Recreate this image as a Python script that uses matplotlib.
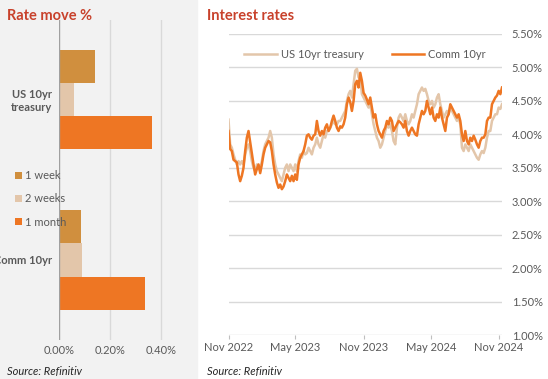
import numpy as np
import pandas as pd
import matplotlib
matplotlib.use('Agg')
import matplotlib.pyplot as plt
import matplotlib.dates as mdates
from matplotlib.patches import Rectangle

plt.rcParams['font.family'] = ['Lato', 'DejaVu Sans']

# rate move, percentage points
categories = ['US 10yr\ntreasury', 'Comm 10yr']
periods = ['1 week', '2 weeks', '1 month']
move_1w = [0.141, 0.086]
move_2w = [0.059, 0.090]
move_1m = [0.365, 0.337]
bar_colors = ['#d08f3e', '#e3c6aa', '#ee7623']

# interest rates, read roughly every 4.5 days from Nov 2022
comm_10yr = [4.05, 3.78, 3.75, 3.62, 3.60, 3.58, 3.40, 3.30, 3.38, 3.50,
             3.75, 3.95, 4.05, 3.88, 3.70, 3.55, 3.40, 3.48, 3.55, 3.42,
             3.55, 3.70, 3.80, 3.85, 3.90, 3.88, 3.75, 3.55, 3.40, 3.28,
             3.20, 3.25, 3.18, 3.22, 3.30, 3.40, 3.35, 3.30, 3.38, 3.30,
             3.40, 3.32, 3.55, 3.65, 3.70, 3.75, 3.85, 3.98, 4.00, 3.95,
             3.92, 3.98, 4.00, 4.20, 4.05, 3.98, 4.05, 4.00, 4.10, 4.15,
             4.05, 4.10, 4.20, 4.28, 4.20, 4.10, 4.05, 4.12, 4.10, 4.15,
             4.25, 4.45, 4.55, 4.48, 4.35, 4.50, 4.75, 4.80, 4.70, 4.92,
             4.80, 4.62, 4.58, 4.52, 4.45, 4.55, 4.40, 4.25, 4.30, 4.15,
             4.05, 4.00, 3.95, 4.05, 4.10, 4.20, 4.15, 4.25, 4.20, 4.05,
             4.10, 4.15, 4.20, 4.18, 4.15, 4.10, 4.20, 4.05, 3.98, 4.05,
             4.10, 4.05, 4.00, 3.98, 4.15, 4.25, 4.35, 4.30, 4.35, 4.50,
             4.40, 4.30, 4.40, 4.25, 4.20, 4.30, 4.25, 4.40, 4.25, 4.15,
             4.05, 4.25, 4.30, 4.45, 4.40, 4.35, 4.30, 4.25, 4.30, 4.20,
             4.00, 3.90, 4.05, 3.90, 3.85, 3.95, 3.90, 3.98, 3.92, 3.85,
             3.80, 3.90, 3.95, 3.95, 4.00, 4.20, 4.25, 4.25, 4.45, 4.50,
             4.55, 4.58, 4.65, 4.60, 4.70]
us_10yr = [4.22, 3.85, 3.80, 3.70, 3.62, 3.55, 3.60, 3.55, 3.60, 3.55,
           3.70, 3.80, 3.85, 3.75, 3.60, 3.50, 3.45, 3.55, 3.50, 3.45,
           3.60, 3.75, 3.85, 3.90, 3.95, 4.05, 3.95, 3.70, 3.55, 3.45,
           3.40, 3.35, 3.30, 3.40, 3.50, 3.55, 3.45, 3.55, 3.50, 3.45,
           3.55, 3.45, 3.60, 3.70, 3.65, 3.75, 3.70, 3.72, 3.80, 3.75,
           3.70, 3.80, 3.85, 3.95, 3.85, 3.80, 3.90, 4.00, 3.95, 4.05,
           4.05, 4.10, 4.15, 4.20, 4.15, 4.15, 4.20, 4.20, 4.25, 4.30,
           4.35, 4.50, 4.60, 4.65, 4.55, 4.75, 4.95, 4.98, 4.85, 4.85,
           4.60, 4.55, 4.50, 4.45, 4.40, 4.45, 4.30, 4.15, 4.05, 3.95,
           3.90, 3.80, 3.85, 3.95, 4.05, 4.15, 4.10, 4.15, 4.05, 3.90,
           3.85, 4.10, 4.25, 4.30, 4.25, 4.20, 4.30, 4.20, 4.15, 4.20,
           4.30, 4.25, 4.35, 4.45, 4.60, 4.65, 4.70, 4.65, 4.68, 4.60,
           4.50, 4.45, 4.50, 4.40, 4.45, 4.55, 4.60, 4.45, 4.35, 4.25,
           4.30, 4.35, 4.30, 4.40, 4.35, 4.30, 4.25, 4.20, 4.25, 4.15,
           3.80, 3.75, 3.85, 3.80, 3.75, 3.85, 3.80, 3.75, 3.70, 3.65,
           3.62, 3.70, 3.75, 3.72, 3.80, 3.95, 4.05, 4.05, 4.20, 4.25,
           4.30, 4.30, 4.40, 4.38, 4.45]
dates = pd.date_range('2022-11-01', '2024-11-09', periods=len(comm_10yr))

red = '#c8412b'
grey_txt = '#595959'
grid_c = '#d9d9d9'

fig = plt.figure(figsize=(5.48, 3.79), dpi=100)
fig.patches.append(Rectangle((0, 0), 197 / 548, 1, transform=fig.transFigure,
                             color='#f2f2f2', zorder=-1))

# left panel: bars
ax = fig.add_axes([59 / 548, 39 / 379, 127.5 / 548, 320 / 379])
ax.set_facecolor('none')
centers = [79.5, 240]
h = 33.3
for i, (vals, lab) in enumerate(zip([move_1w, move_2w, move_1m], periods)):
    ax.barh([c + (i - 1) * h for c in centers], vals, height=h,
            color=bar_colors[i], label=lab, zorder=2)
ax.set_ylim(320, 0)
ax.set_xlim(0, 0.5)
ax.set_xticks([0, 0.2, 0.4])
ax.set_xticklabels(['0.00%', '0.20%', '0.40%'])
ax.set_yticks(centers)
ax.set_yticklabels(categories, fontweight='bold', color='#404040', fontsize=7.5)
ax.tick_params(length=0, labelsize=8, labelcolor=grey_txt)
ax.tick_params(axis='y', pad=5)
for x in [0.2, 0.4]:
    ax.axvline(x, color=grid_c, lw=1, zorder=1)
ax.axvline(0, color='#a0a0a0', lw=1, zorder=3)
for s in ax.spines.values():
    s.set_visible(False)
ax.legend(loc='center left', bbox_to_anchor=(-48 / 127.5, 0.5 - 19 / 320),
          frameon=False, handlelength=0.6, handleheight=0.6, handletextpad=0.3,
          labelspacing=1.1, fontsize=8, labelcolor=grey_txt, borderaxespad=0)

# right panel: lines
ax2 = fig.add_axes([228.5 / 548, 44 / 379, 273.5 / 548, 301 / 379])
ax2.plot(dates, us_10yr, color='#e3c6aa', lw=1.8, label='US 10yr treasury', zorder=2)
ax2.plot(dates, comm_10yr, color='#ee7623', lw=1.8, label='Comm 10yr', zorder=3)
ax2.set_ylim(1.0, 5.5)
ax2.set_xlim(dates[0], dates[-1])
ax2.set_yticks(np.arange(1.0, 5.51, 0.5))
ax2.yaxis.set_major_formatter(plt.FuncFormatter(lambda v, p: f'{v:.2f}%'))
ax2.yaxis.tick_right()
ax2.grid(axis='y', color=grid_c, lw=1, zorder=0)
ax2.set_xticks(pd.to_datetime(['2022-11-01', '2023-05-01', '2023-11-01',
                               '2024-05-01', '2024-11-01']))
ax2.xaxis.set_major_formatter(mdates.DateFormatter('%b %Y'))
ax2.tick_params(axis='y', length=0, labelsize=8, labelcolor=grey_txt, pad=7)
ax2.tick_params(axis='x', length=3, color='#bfbfbf', labelsize=8,
                labelcolor=grey_txt, pad=2)
for s in ax2.spines.values():
    s.set_visible(False)
ax2.legend(loc='upper center', bbox_to_anchor=(0.5, 0.985), ncol=2, frameon=False,
           fontsize=8, labelcolor=grey_txt, handlelength=2.9, columnspacing=2.5,
           handletextpad=0.4)

fig.text(7 / 548, 1 - 16 / 379, 'Rate move %', color=red, fontsize=10.5,
         fontweight='bold', va='center')
fig.text(207 / 548, 1 - 16 / 379, 'Interest rates', color=red, fontsize=10.5,
         fontweight='bold', va='center')
fig.text(7 / 548, 1 - 371 / 379, 'Source: Refinitiv', fontsize=8,
         style='italic', color='#262626', va='center')
fig.text(207 / 548, 1 - 371 / 379, 'Source: Refinitiv', fontsize=8,
         style='italic', color='#262626', va='center')

fig.savefig('out.png', dpi=100)
